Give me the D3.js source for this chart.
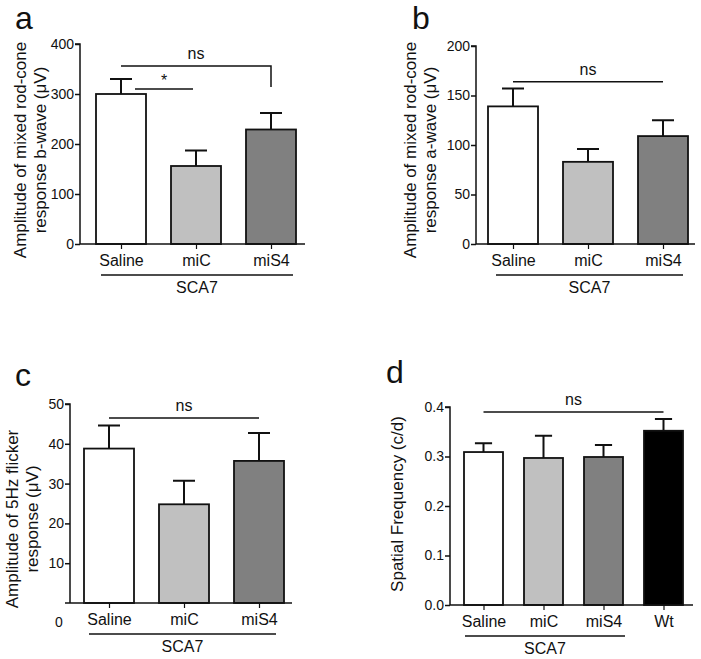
<!DOCTYPE html>
<html>
<head>
<meta charset="utf-8">
<script src="https://cdn.jsdelivr.net/npm/d3@7"></script>
<style>
  body { margin: 0; background: #fff; }
  text { font-family: "Liberation Sans", Arial, sans-serif; fill: #111; }
</style>
</head>
<body>
<script>
// groups
const groupsSca7 = ["Saline", "miC", "miS4"];
const groupsAll = ["Saline", "miC", "miS4", "Wt"];
const barColors = ["#ffffff", "#c0c0c0", "#808080", "#000000"];

// a: b-wave amplitude (mean, SEM)
const bWaveMean = [300, 156, 229];
const bWaveSem = [30, 31, 33];
const bWaveTicks = [0, 100, 200, 300, 400];

// b: a-wave amplitude
const aWaveMean = [139, 83, 109];
const aWaveSem = [18, 13, 16];
const aWaveTicks = [0, 50, 100, 150, 200];

// c: 5Hz flicker
const flickerMean = [38.8, 24.8, 35.7];
const flickerSem = [5.8, 5.9, 7.0];
const flickerTicks = [10, 20, 30, 40, 50];

// d: spatial frequency
const spatialMean = [0.309, 0.297, 0.299, 0.352];
const spatialSem = [0.018, 0.045, 0.024, 0.024];
const spatialTicks = [0, 0.1, 0.2, 0.3, 0.4];

const svg = d3.select("body").append("svg")
  .attr("width", 701)
  .attr("height", 659);

function drawPanel(p) {
  const g = svg.append("g");
  const y = d3.scaleLinear().domain(p.domain).range([p.y0, p.y1]);
  const x = d3.scalePoint().domain(p.groups).range(p.centers);
  const bw = p.barWidth;
  const rows = p.groups.map((k, i) => ({ k, i, m: p.mean[i], s: p.sem[i] }));

  // error bars (upper only)
  g.selectAll(".err").data(rows).join("path")
    .attr("d", d => `M${x(d.k)},${y(d.m)}V${y(d.m + d.s)}M${x(d.k) - bw * 0.22},${y(d.m + d.s)}H${x(d.k) + bw * 0.22}`)
    .attr("stroke", "#111").attr("stroke-width", 2).attr("fill", "none");

  g.selectAll(".bar").data(rows).join("rect")
    .attr("x", d => x(d.k) - bw / 2)
    .attr("y", d => y(d.m))
    .attr("width", bw)
    .attr("height", d => y(0) - y(d.m))
    .attr("fill", d => barColors[d.i])
    .attr("stroke", "#111").attr("stroke-width", 1.8);

  // y axis
  const yAxis = d3.axisLeft(y).tickValues(p.ticks).tickSize(5).tickPadding(1)
    .tickFormat(p.fmt || d3.format("d"));
  const ya = g.append("g").attr("transform", `translate(${p.axisX},0)`).call(yAxis);
  ya.select(".domain").attr("d", `M-5,${y(p.domain[1])}H0V${y(0)}`);
  ya.selectAll("line").attr("stroke", "#111").attr("stroke-width", 1.5);
  ya.select(".domain").attr("stroke", "#111").attr("stroke-width", 1.5);
  ya.selectAll("text").attr("font-size", 14).attr("fill", "#111")
    .attr("font-family", "Liberation Sans, Arial, sans-serif");

  // x axis
  const xAxis = d3.axisBottom(x).tickSize(5).tickPadding(6).tickSizeOuter(0);
  const xa = g.append("g").attr("transform", `translate(0,${y(0)})`).call(xAxis);
  xa.select(".domain").attr("d", `M${p.axisX - (p.zeroTick ? 5 : 0)},0H${p.axisEnd}`)
    .attr("stroke", "#111").attr("stroke-width", 1.5);
  xa.selectAll("line").attr("stroke", "#111").attr("stroke-width", 1.2);
  xa.selectAll("text").attr("font-size", 16).attr("fill", "#111")
    .attr("font-family", "Liberation Sans, Arial, sans-serif");

  // SCA7 bracket
  const first = x(groupsSca7[0]) - bw / 2 + p.scaPad[0];
  const last = x(groupsSca7[2]) + bw / 2 - p.scaPad[1];
  g.append("line").attr("x1", first).attr("x2", last)
    .attr("y1", y(0) + 31).attr("y2", y(0) + 31)
    .attr("stroke", "#111").attr("stroke-width", 1.5);
  g.append("text").attr("x", (first + last) / 2).attr("y", y(0) + 49)
    .attr("text-anchor", "middle").attr("font-size", 16).text("SCA7");

  // ns line
  const lastG = p.groups[p.groups.length - 1];
  const nsY = y(p.nsLevel);
  g.append("path")
    .attr("d", `M${x(p.groups[0])},${nsY}H${x(lastG)}` + (p.nsDrop ? `V${y(p.nsDrop)}` : ""))
    .attr("stroke", "#111").attr("stroke-width", 1.5).attr("fill", "none");
  g.append("text").attr("x", (x(p.groups[0]) + x(lastG)) / 2).attr("y", nsY - 7)
    .attr("text-anchor", "middle").attr("font-size", 16).text("ns");

  // star comparison
  if (p.star) {
    const sy = y(p.star.level);
    const sx0 = x(p.groups[0]) + 14, sx1 = x(p.groups[1]) - 3;
    g.append("line").attr("x1", sx0).attr("x2", sx1).attr("y1", sy).attr("y2", sy)
      .attr("stroke", "#111").attr("stroke-width", 1.5);
    g.append("text").attr("x", (sx0 + sx1) / 2).attr("y", sy - 3)
      .attr("text-anchor", "middle").attr("font-size", 16).text("*");
  }

  // y title
  const tx = p.titleX, ty = p.titleY || (y(0) + y(p.domain[1])) / 2;
  const t = g.append("text").attr("transform", `translate(${tx},${ty}) rotate(-90)`)
    .attr("text-anchor", "middle").attr("font-size", 17);
  p.title.forEach((line, i) => {
    t.append("tspan").attr("x", 0).attr("dy", i === 0 ? 0 : 20).text(line);
  });

  // panel letter
  g.append("text").attr("x", p.letterPos[0]).attr("y", p.letterPos[1])
    .attr("font-size", 32).text(p.letter);

  return { g, y };
}

drawPanel({
  letter: "a", letterPos: [15, 29],
  groups: groupsSca7, mean: bWaveMean, sem: bWaveSem, ticks: bWaveTicks,
  domain: [0, 400], y0: 244, y1: 44, centers: [121, 271], barWidth: 50,
  axisX: 80, axisEnd: 305, scaPad: [5, 3],
  nsLevel: 356, nsDrop: 314, star: { level: 310 },
  titleX: 26, titleY: 150, title: ["Amplitude of mixed rod-cone", "response b-wave (\u03bcV)"]
});

drawPanel({
  letter: "b", letterPos: [412, 29],
  groups: groupsSca7, mean: aWaveMean, sem: aWaveSem, ticks: aWaveTicks,
  domain: [0, 200], y0: 244, y1: 46, centers: [513, 663], barWidth: 50,
  axisX: 476, axisEnd: 695, scaPad: [8, 5],
  nsLevel: 164,
  titleX: 416, titleY: 150, title: ["Amplitude of mixed rod-cone", "response a-wave (\u03bcV)"]
});

const c = drawPanel({
  letter: "c", letterPos: [15, 386],
  groups: groupsSca7, mean: flickerMean, sem: flickerSem, ticks: flickerTicks,
  domain: [0, 50], y0: 603, y1: 404, centers: [109, 259], barWidth: 50,
  axisX: 70, axisEnd: 292, scaPad: [5, 8], zeroTick: true,
  nsLevel: 46.5,
  titleX: 18, titleY: 519, title: ["Amplitude of 5Hz flicker", "response (\u03bcV)"]
});
// the zero label of panel c sits below the axis in the original
c.g.append("text").attr("x", 59).attr("y", 627).attr("text-anchor", "middle")
  .attr("font-size", 14).text("0");

drawPanel({
  letter: "d", letterPos: [386, 383],
  groups: groupsAll, mean: spatialMean, sem: spatialSem, ticks: spatialTicks,
  domain: [0, 0.4], y0: 605, y1: 407, centers: [483.5, 663.5], barWidth: 39,
  axisX: 450, axisEnd: 693, scaPad: [1, -2], fmt: d3.format(".1f"),
  nsLevel: 0.39,
  titleX: 403, titleY: 504, title: ["Spatial Frequency (c/d)"]
});
</script>
</body>
</html>
